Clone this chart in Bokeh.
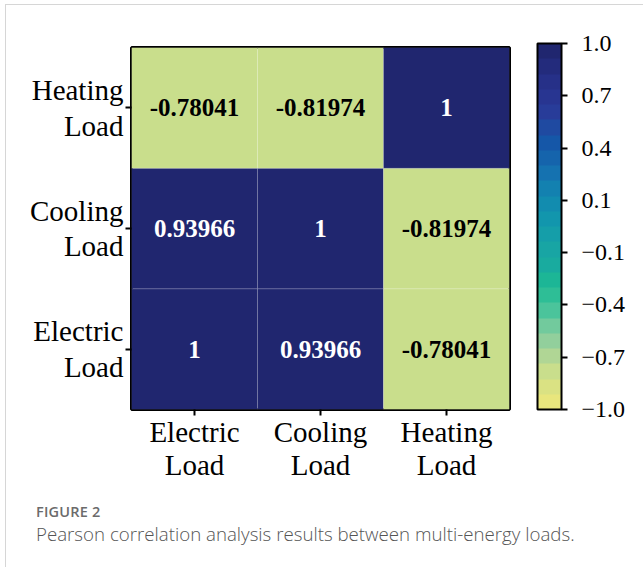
import numpy as np
from bokeh.plotting import figure
from bokeh.models import (ColumnDataSource, LinearColorMapper, ColorBar, FixedTicker,
                          Div, FactorRange, InlineStyleSheet)
from bokeh.layouts import column
from bokeh.embed import file_html
from bokeh.resources import INLINE
from bokeh.core.properties import value

# ---------------- data ----------------
loads = ["Electric\nLoad", "Cooling\nLoad", "Heating\nLoad"]
# corr[row][col]; rows = y (Electric bottom ... Heating top), cols = x
corr = [
    [1.0, 0.93966, -0.78041],
    [0.93966, 1.0, -0.81974],
    [-0.78041, -0.81974, 1.0],
]
cbar_labels = ["\u22121.0", "\u22120.7", "\u22120.4", "\u22120.1", "0.1", "0.4", "0.7", "1.0"]
fig_label = "FIGURE 2"
caption = "Pearson correlation analysis results between multi-energy loads."

# ---------------- colour map (style) ----------------
anchor_f = [0.0, 0.065, 0.12, 0.165, 0.22, 0.285, 0.34, 0.375, 0.45, 0.52, 0.59, 0.65, 0.73, 0.82, 0.91, 1.0]
anchor_c = ["#efe87a", "#d9e283", "#c2dc8f", "#a2d29a", "#7acb9e", "#3ec29a", "#1dbb92", "#1aae9c",
            "#17a3a6", "#1296ad", "#1286b0", "#1570b0", "#1557a8", "#2a3a98", "#252e85", "#1e2468"]


def hex2rgb(h):
    return [int(h[i:i + 2], 16) for i in (1, 3, 5)]


rgb = np.array([hex2rgb(c) for c in anchor_c], dtype=float)
n_bands = 24
fs = (np.arange(n_bands) + 0.5) / n_bands
palette = []
for f in fs:
    r = np.interp(f, anchor_f, rgb[:, 0])
    g = np.interp(f, anchor_f, rgb[:, 1])
    b = np.interp(f, anchor_f, rgb[:, 2])
    palette.append("#%02x%02x%02x" % (int(round(r)), int(round(g)), int(round(b))))

mapper = LinearColorMapper(palette=palette, low=-1, high=1)

xs, ys, vs, txt, tcol = [], [], [], [], []
for i, yl in enumerate(loads):
    for j, xl in enumerate(loads):
        v = corr[i][j]
        xs.append(xl)
        ys.append(yl)
        vs.append(v)
        txt.append(f"{v:g}")
        tcol.append("black" if v < 0 else "white")
src = ColumnDataSource(dict(x=xs, y=ys, v=vs, t=txt, c=tcol))

SERIF = "Liberation Serif"

p = figure(x_range=FactorRange(*loads), y_range=FactorRange(*loads),
           frame_width=378, frame_height=362,
           min_border_left=125, min_border_top=42, min_border_bottom=8, min_border_right=6,
           output_backend="svg", toolbar_location=None)
p.rect(x="x", y="y", width=1, height=1, source=src,
       fill_color={"field": "v", "transform": mapper},
       line_color="white", line_alpha=0.12, line_width=1)
p.text(x="x", y="y", text="t", source=src, text_color="c",
       text_align="center", text_baseline="middle",
       text_font=value(SERIF), text_font_style="bold", text_font_size="25px")

p.outline_line_color = "black"
p.outline_line_width = 3
p.outline_line_alpha = 1
p.grid.visible = False
for ax in (p.xaxis[0], p.yaxis[0]):
    ax.axis_line_color = None
    ax.major_tick_out = 6
    ax.major_tick_in = 0
    ax.major_tick_line_width = 2
    ax.major_tick_line_color = "black"
    ax.minor_tick_line_color = None
    ax.major_label_text_font = SERIF
    ax.major_label_text_font_size = "29px"
    ax.major_label_text_color = "black"
    ax.major_label_text_line_height = 1.05
p.xaxis.major_label_standoff = 0
p.yaxis.major_label_standoff = 2
p.yaxis.major_label_text_line_height = 1.12

tick_pos = [float(t) for t in np.linspace(-1, 1, len(cbar_labels))]
cb = ColorBar(color_mapper=mapper, ticker=FixedTicker(ticks=tick_pos),
              major_label_overrides={t: lab for t, lab in zip(tick_pos, cbar_labels)},
              width=24, height=366, padding=0, margin=0, location=(28, 0),
              bar_line_color="black", bar_line_width=2,
              major_tick_out=6, major_tick_in=0, major_tick_line_color="black",
              major_tick_line_width=2, minor_tick_line_color=None,
              major_label_text_font=SERIF, major_label_text_font_size="24px",
              major_label_text_color="black", label_standoff=14,
              background_fill_alpha=0, border_line_color=None)
p.add_layout(cb, "right")

cap = Div(text=(
    '<div style="margin-left:25px;margin-top:15px;font-family:\'Open Sans\';">'
    f'<div style="font-size:14.5px;line-height:16px;font-weight:600;color:#6b6b6b;letter-spacing:0.2px">{fig_label}</div>'
    f'<div style="font-size:18.7px;line-height:20px;font-weight:300;color:#555;margin-top:4px">{caption}</div>'
    '</div>'), width=632, height=76)

frame_css = InlineStyleSheet(css=":host { margin-left: 5px; margin-top: 4px; "
                                 "border-left: 1px solid #d6d6d6; border-top: 1px solid #d6d6d6; }")
lay = column(p, cap, stylesheets=[frame_css])

open("out.html", "w").write(file_html(lay, INLINE))
